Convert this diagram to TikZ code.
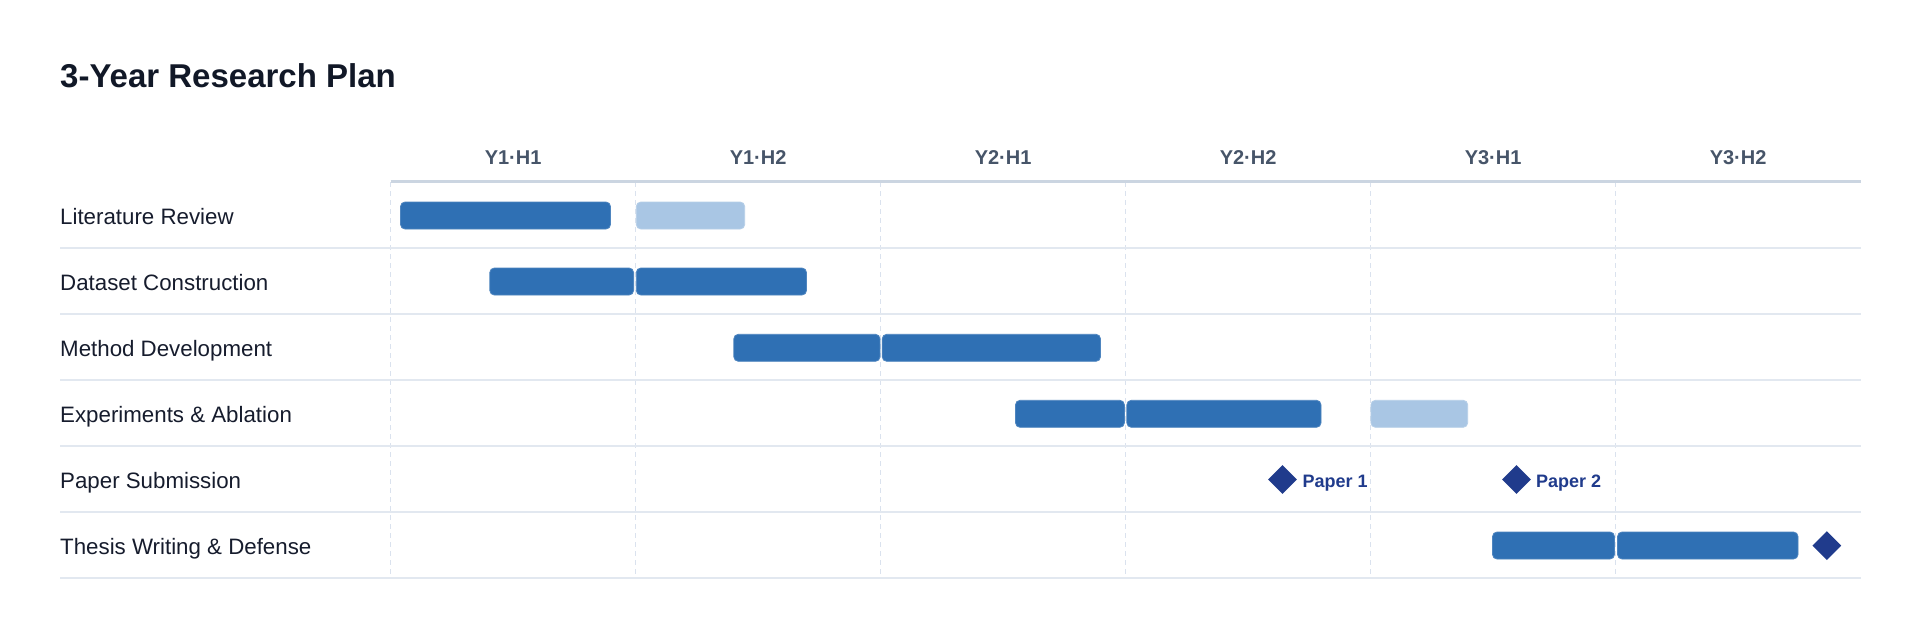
\documentclass[tikz,border=0pt]{standalone}
\usepackage{fontspec}
\setmainfont{Liberation Sans}
\usetikzlibrary{shapes.geometric}
\definecolor{titlec}{RGB}{17,24,39}
\definecolor{labelc}{RGB}{22,28,45}
\definecolor{headc}{RGB}{71,85,105}
\definecolor{headline}{RGB}{203,213,225}
\definecolor{gridc}{RGB}{226,232,240}
\definecolor{vgridc}{RGB}{218,226,238}
\definecolor{darkbar}{RGB}{47,112,180}
\definecolor{lightbar}{RGB}{169,198,228}
\definecolor{milec}{RGB}{32,59,140}
\tikzset{
  rowlabel/.style={anchor=base west, inner sep=0pt, text=labelc, font=\fontsize{22.3}{26}\selectfont},
  colhead/.style={anchor=base, inner sep=0pt, text=headc, font=\bfseries\fontsize{20}{24}\selectfont},
  barbase/.style={rectangle, rounded corners=4.5pt, inner sep=0pt, minimum height=27pt, line width=0.8pt},
  darkb/.style={barbase, fill=darkbar, draw=darkbar!85!white},
  lightb/.style={barbase, fill=lightbar, draw=lightbar!85!white},
  mile/.style={diamond, shape aspect=1, fill=milec, inner sep=0pt, minimum width=29pt, minimum height=29pt},
  milelabel/.style={anchor=base west, inner sep=0pt, text=milec, font=\bfseries\fontsize{18}{22}\selectfont},
  rowline/.style={draw=gridc, line width=1.5pt},
  vline/.style={draw=vgridc, line width=1.2pt, dash pattern=on 5pt off 4pt},
}
\begin{document}
\begin{tikzpicture}[x=1pt, y=-1pt]
\useasboundingbox[fill=white] (0,0) rectangle (1920,633);
% title
\node[anchor=base west, inner sep=0pt, text=titlec, font=\bfseries\fontsize{33}{40}\selectfont] (title) at (60,87) {3-Year Research Plan};
% vertical dashed grid
\foreach \k in {0,...,5} {
  \draw[vline] ({390.6+245*\k},182) -- ({390.6+245*\k},578);
}
% row separators
\foreach \yy in {248,314,380,446,512,578} {
  \draw[rowline] (60,\yy) -- (1860.6,\yy);
}
% header line
\draw[draw=headline, line width=3pt] (390.6,181) -- (1860.6,181);
% column headers
\node[colhead] (h1) at (513.1,164) {Y1·H1};
\node[colhead] (h2) at (758.1,164) {Y1·H2};
\node[colhead] (h3) at (1003.1,164) {Y2·H1};
\node[colhead] (h4) at (1248.1,164) {Y2·H2};
\node[colhead] (h5) at (1493.1,164) {Y3·H1};
\node[colhead] (h6) at (1738.1,164) {Y3·H2};
% row labels
\node[rowlabel] (l1) at (60,224.5) {Literature Review};
\node[rowlabel] (l2) at (60,290.5) {Dataset Construction};
\node[rowlabel] (l3) at (60,356.5) {Method Development};
\node[rowlabel] (l4) at (60,422.5) {Experiments \& Ablation};
\node[rowlabel] (l5) at (60,488.5) {Paper Submission};
\node[rowlabel] (l6) at (60,554.5) {Thesis Writing \& Defense};
% bars
\node[darkb, minimum width=210pt] (b1a) at (505.5,215.5) {};
\node[lightb, minimum width=108.4pt] (b1b) at (690.5,215.5) {};
\node[darkb, minimum width=143.8pt] (b2a) at (561.7,281.5) {};
\node[darkb, minimum width=170.2pt] (b2b) at (721.4,281.5) {};
\node[darkb, minimum width=146.2pt] (b3a) at (806.9,347.8) {};
\node[darkb, minimum width=218.3pt] (b3b) at (991.35,347.8) {};
\node[darkb, minimum width=108.9pt] (b4a) at (1069.95,413.8) {};
\node[darkb, minimum width=194.2pt] (b4b) at (1223.9,413.8) {};
\node[lightb, minimum width=96.8pt] (b4c) at (1419.3,413.8) {};
\node[darkb, minimum width=122pt] (b6a) at (1553.5,545.5) {};
\node[darkb, minimum width=180.5pt] (b6b) at (1707.75,545.5) {};
% milestones
\node[mile] (m1) at (1282.5,479.5) {};
\node[milelabel] (m1t) at (1302.3,487.7) {Paper 1};
\node[mile] (m2) at (1516.5,479.5) {};
\node[milelabel] (m2t) at (1535.9,487.7) {Paper 2};
\node[mile] (m3) at (1826.8,545.6) {};
\end{tikzpicture}
\end{document}
